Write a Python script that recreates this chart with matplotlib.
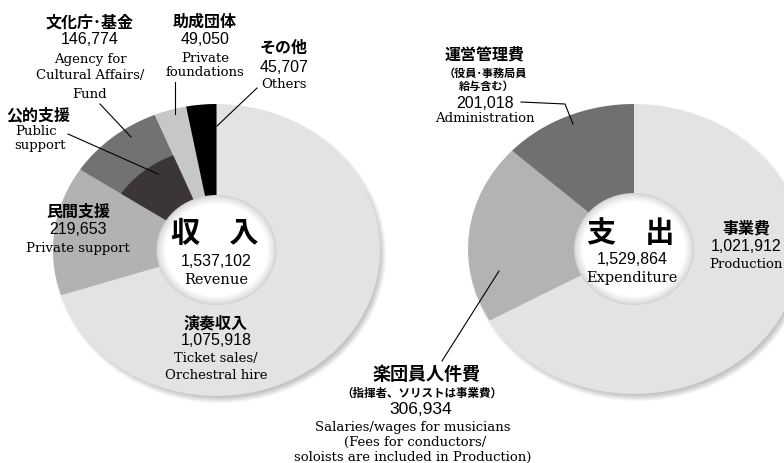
import numpy as np
import matplotlib
matplotlib.use("Agg")
import matplotlib.pyplot as plt
from matplotlib.patches import Ellipse, Wedge

# Revenue (thousand yen), clockwise from 12 o'clock
rev_names = ["演奏収入", "民間支援", "文化庁･基金", "助成団体", "その他"]
rev_values = [1075918, 219653, 146774, 49050, 45707]
rev_colors = ["#e3e3e3", "#b2b2b2", "#727272", "#c6c7c7", "#000000"]
rev_total = "1,537,102"

# Expenditure (thousand yen), clockwise from 12 o'clock
exp_names = ["事業費", "楽団員人件費", "運営管理費"]
exp_values = [1021912, 306934, 201018]
exp_colors = ["#e3e3e3", "#b3b3b3", "#707070"]
exp_total = "1,529,864"

# 公的支援 is drawn as the inner part of the 文化庁・基金 slice
public_idx = 2
public_color = "#3b3635"

JP = ["Noto Sans CJK JP", "DejaVu Sans"]
NUM = "Liberation Sans"
EN = "DejaVu Serif"

W, H = 784, 464
PAD = 1.12


def donut_axes(fig, cx, cy, rx, ry):
    ax = fig.add_axes([(cx - rx * PAD) / W, (H - cy - ry * PAD) / H,
                       2 * rx * PAD / W, 2 * ry * PAD / H])
    return ax


def draw_donut(ax, values, colors, rx, ry):
    # soft drop shadow toward the lower right
    dx, dy = 3 / rx, -4 / ry
    for i in range(7):
        gx = 1 + (i - 3) / rx
        gy = 1 + (i - 3) / ry
        ax.add_patch(Ellipse((dx, dy), 2 * gx, 2 * gy, color="black",
                             alpha=0.035, lw=0, zorder=0))
    ax.pie(values, colors=colors, startangle=90, counterclock=False,
           radius=1, wedgeprops={"linewidth": 0})
    ax.set_aspect("auto")
    ax.set_xlim(-PAD, PAD)
    ax.set_ylim(-PAD, PAD)
    ax.axis("off")


def draw_hole(ax, rx, ry, hole_rx, hole_ry):
    steps = 12
    for i in range(steps):
        t = i / (steps - 1)
        shrink = t * 9
        g = 0.82 + 0.18 * t ** 0.7
        ax.add_patch(Ellipse((0, 0), 2 * (hole_rx - shrink) / rx,
                             2 * (hole_ry - shrink) / ry,
                             color=(g, g, g), lw=0, zorder=5))


def label(ax, x, y, s, kind, size=None):
    if kind == "jp":
        ax.text(x, y, s, ha="center", va="center", family=JP,
                weight="bold", fontsize=size or 11.5)
    elif kind == "num":
        ax.text(x, y, s, ha="center", va="center", family=NUM,
                fontsize=size or 11.5)
    else:
        ax.text(x, y, s, ha="center", va="center", family=EN,
                fontsize=size or 9.5)


def main():
    fig = plt.figure(figsize=(W / 100, H / 100), dpi=100)

    # left: revenue
    lcx, lcy, lrx, lry = 216.5, 251, 163.5, 146
    axl = donut_axes(fig, lcx, lcy, lrx, lry)
    draw_donut(axl, rev_values, rev_colors, lrx, lry)
    cum = np.cumsum([0] + rev_values) / sum(rev_values)
    t1 = 90 - 360 * cum[public_idx + 1]
    t2 = 90 - 360 * cum[public_idx]
    axl.add_patch(Wedge((0, 0), 0.70, t1, t2, color=public_color, lw=0,
                        zorder=3))
    draw_hole(axl, lrx, lry, 60, 55)

    # right: expenditure
    rcx, rcy, rrx, rry = 634, 250, 166, 145
    axr = donut_axes(fig, rcx, rcy, rrx, rry)
    draw_donut(axr, exp_values, exp_colors, rrx, rry)
    draw_hole(axr, rrx, rry, 60, 56)

    # overlay in pixel coordinates for text and leader lines
    ax = fig.add_axes([0, 0, 1, 1])
    ax.set_xlim(0, W)
    ax.set_ylim(H, 0)
    ax.axis("off")

    lw = 0.8
    # revenue labels
    label(ax, 90, 22, rev_names[2], "jp")
    label(ax, 90, 40, "146,774", "num")
    label(ax, 90, 60, "Agency for", "en")
    label(ax, 90, 76, "Cultural Affairs/", "en")
    label(ax, 90, 94, "Fund", "en")
    ax.plot([100, 131], [105, 138], color="black", lw=lw)

    label(ax, 205, 22, rev_names[3], "jp")
    label(ax, 205, 40, "49,050", "num")
    label(ax, 205, 58, "Private", "en")
    label(ax, 205, 73, "foundations", "en")
    ax.plot([175, 175], [83, 115], color="black", lw=lw)

    label(ax, 284, 48, rev_names[4], "jp")
    label(ax, 284, 67, "45,707", "num")
    label(ax, 284, 85, "Others", "en")
    ax.plot([257, 217], [89, 127], color="black", lw=lw)

    label(ax, 38, 115, "公的支援", "jp")
    label(ax, 36, 132, "Public", "en")
    label(ax, 40, 146, "support", "en")
    ax.plot([68, 158], [135, 175], color="black", lw=lw)

    label(ax, 78, 212, rev_names[1], "jp")
    label(ax, 78, 230, "219,653", "num")
    label(ax, 78, 249, "Private support", "en")

    label(ax, 216, 323, rev_names[0], "jp")
    label(ax, 216, 341, "1,075,918", "num")
    label(ax, 216, 359, "Ticket sales/", "en")
    label(ax, 216, 376, "Orchestral hire", "en")

    ax.text(215, 233, "収\u3000入", ha="center", va="center", family=JP,
            weight="bold", fontsize=21)
    label(ax, 216, 262, rev_total, "num")
    label(ax, 216, 280, "Revenue", "en", 10.5)

    # expenditure labels
    label(ax, 485, 55, exp_names[2], "jp")
    label(ax, 485, 73, "（役員･事務局員", "jp", 8)
    label(ax, 487, 86, "給与含む）", "jp", 8)
    label(ax, 485, 103, "201,018", "num")
    label(ax, 485, 118, "Administration", "en")
    ax.plot([521, 565, 573], [103, 105, 125], color="black", lw=lw)

    label(ax, 746, 229, exp_names[0], "jp")
    label(ax, 746, 247, "1,021,912", "num")
    label(ax, 746, 265, "Production", "en")

    label(ax, 426, 375, exp_names[1], "jp", 13)
    label(ax, 422, 393, "（指揮者、ソリストは事業費）", "jp", 8.3)
    label(ax, 421, 410, "306,934", "num", 12.5)
    label(ax, 413, 428, "Salaries/wages for musicians", "en")
    label(ax, 415, 442, "(Fees for conductors/", "en")
    label(ax, 413, 457, "soloists are included in Production)", "en")
    ax.plot([442, 499], [362, 272], color="black", lw=lw)

    ax.text(631, 233, "支\u3000出", ha="center", va="center", family=JP,
            weight="bold", fontsize=21)
    label(ax, 632, 260, exp_total, "num")
    label(ax, 632, 278, "Expenditure", "en", 10.5)

    fig.savefig("out.png", dpi=100)
    plt.close(fig)


if __name__ == "__main__":
    main()
